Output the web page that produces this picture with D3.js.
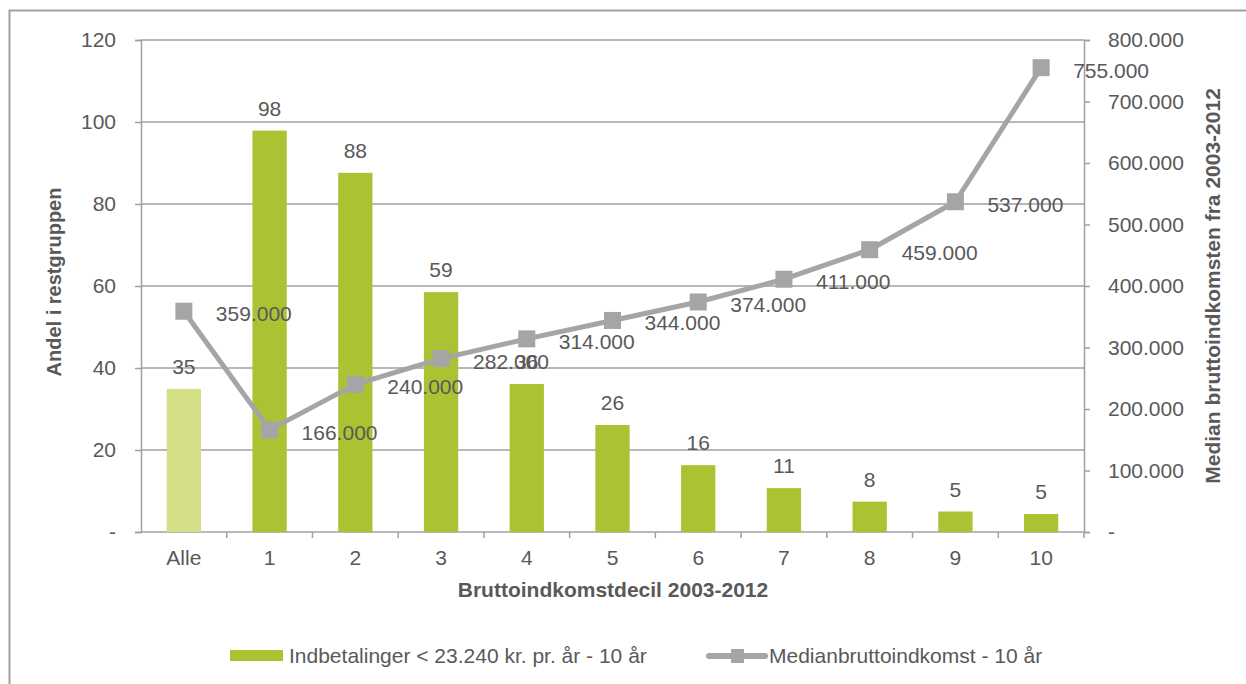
<!DOCTYPE html>
<html>
<head>
<meta charset="utf-8">
<script src="https://cdn.jsdelivr.net/npm/d3@7"></script>
<style>
  body { margin: 0; background: #fff; }
  svg text { font-family: "Liberation Sans", Arial, sans-serif; fill: #595959; }
</style>
</head>
<body>
<div id="chart"></div>
<script>
// data
let kategorier = ["Alle", "1", "2", "3", "4", "5", "6", "7", "8", "9", "10"];
let andel = [34.9, 97.9, 87.6, 58.5, 36.1, 26.1, 16.3, 10.7, 7.4, 5.0, 4.4];
let andelLabels = ["35", "98", "88", "59", "36", "26", "16", "11", "8", "5", "5"];
let median = [359000, 166000, 240000, 282000, 314000, 344000, 374000, 411000, 459000, 537000, 755000];
let venstreTicks = [0, 20, 40, 60, 80, 100, 120];
let hoejreTicks = [0, 100000, 200000, 300000, 400000, 500000, 600000, 700000, 800000];
let serieNavne = ["Indbetalinger < 23.240 kr. pr. år - 10 år", "Medianbruttoindkomst - 10 år"];

let W = 1246, H = 684;
let plot = {left: 141, right: 1084, top: 40, bottom: 532};
let groen = "#adc233", lysGroen = "#d3de85", graa = "#a5a5a5", gitter = "#a0a0a0";
let fs = "21px";

let dk = d3.formatLocale({decimal: ",", thousands: ".", grouping: [3], currency: ["", ""]});
let fmt = dk.format(",");

let svg = d3.select("#chart").append("svg")
    .attr("width", W).attr("height", H);

// chart border (left and top visible, runs off the picture)
svg.append("rect")
    .attr("x", 9.5).attr("y", 10.5)
    .attr("width", W + 20).attr("height", H + 20)
    .attr("fill", "none").attr("stroke", "#a0a0a0").attr("stroke-width", 2);

let x = d3.scaleBand().domain(kategorier)
    .range([plot.left, plot.right])
    .paddingInner(0.6).paddingOuter(0.3);
let y = d3.scaleLinear().domain([0, 120]).range([plot.bottom, plot.top]);
let y2 = d3.scaleLinear().domain([0, 800000]).range([plot.bottom, plot.top]);

// gridlines
svg.append("g")
    .selectAll("line")
    .data(venstreTicks.filter(d => d > 0))
    .enter().append("line")
    .attr("x1", plot.left).attr("x2", plot.right)
    .attr("y1", d => y(d)).attr("y2", d => y(d))
    .attr("stroke", gitter).attr("stroke-width", 1.5);

// left axis
let venstre = svg.append("g")
    .attr("transform", "translate(" + plot.left + ",0)")
    .call(d3.axisLeft(y).tickValues(venstreTicks).tickSize(6).tickPadding(19)
        .tickFormat(d => d == 0 ? "-" : d));

// right axis
let hoejre = svg.append("g")
    .attr("transform", "translate(" + plot.right + ",0)")
    .call(d3.axisRight(y2).tickValues(hoejreTicks).tickSize(6).tickPadding(18)
        .tickFormat(d => d == 0 ? "-" : fmt(d)));

// bottom axis, labels at band centres
let bund = svg.append("g")
    .attr("transform", "translate(0," + plot.bottom + ")")
    .call(d3.axisBottom(x).tickSize(0).tickPadding(18));

// tick marks between categories
svg.append("g")
    .selectAll("line")
    .data(kategorier.slice(1).concat(["end"]))
    .enter().append("line")
    .attr("x1", (d, i) => plot.left + x.step() * (i + 1))
    .attr("x2", (d, i) => plot.left + x.step() * (i + 1))
    .attr("y1", plot.bottom).attr("y2", plot.bottom + 6)
    .attr("stroke", gitter).attr("stroke-width", 1.5);

[venstre, hoejre, bund].forEach(g => {
    g.selectAll(".domain").attr("stroke", gitter).attr("stroke-width", 1.5);
    g.selectAll(".tick line").attr("stroke", gitter).attr("stroke-width", 1.5);
    g.selectAll("text").style("font-size", fs).attr("fill", "#595959");
});
bund.select(".domain").attr("d", "M" + plot.left + ",0H" + plot.right);

// bars
svg.append("g")
    .selectAll("rect")
    .data(andel)
    .enter().append("rect")
    .attr("x", (d, i) => x(kategorier[i]))
    .attr("y", d => y(d))
    .attr("width", x.bandwidth())
    .attr("height", d => plot.bottom - y(d))
    .attr("fill", (d, i) => i == 0 ? lysGroen : groen);

svg.append("g")
    .selectAll("text")
    .data(andel)
    .enter().append("text")
    .attr("x", (d, i) => x(kategorier[i]) + x.bandwidth() / 2)
    .attr("y", d => y(d) - 15)
    .attr("text-anchor", "middle")
    .style("font-size", fs)
    .text((d, i) => andelLabels[i]);

// line series on right axis
let cx = (d, i) => x(kategorier[i]) + x.bandwidth() / 2;
let linje = d3.line().x(cx).y(d => y2(d));

svg.append("path")
    .datum(median)
    .attr("d", linje)
    .attr("fill", "none")
    .attr("stroke", graa)
    .attr("stroke-width", 5)
    .attr("stroke-linejoin", "round");

let ms = 17;
svg.append("g")
    .selectAll("rect")
    .data(median)
    .enter().append("rect")
    .attr("x", (d, i) => cx(d, i) - ms / 2)
    .attr("y", d => y2(d) - ms / 2)
    .attr("width", ms).attr("height", ms)
    .attr("fill", graa);

// labels sit right of the markers (282.000 runs over the "36" like in the original)
svg.append("g")
    .selectAll("text")
    .data(median)
    .enter().append("text")
    .attr("x", (d, i) => cx(d, i) + 32)
    .attr("y", d => y2(d) + 10)
    .style("font-size", fs)
    .text(d => fmt(d));

// axis titles
svg.append("text")
    .attr("transform", "translate(61,282) rotate(-90)")
    .attr("text-anchor", "middle")
    .style("font-size", "20px").style("font-weight", "bold")
    .text("Andel i restgruppen");

svg.append("text")
    .attr("transform", "translate(1220,286) rotate(-90)")
    .attr("text-anchor", "middle")
    .style("font-size", "21px").style("font-weight", "bold")
    .text("Median bruttoindkomsten fra 2003-2012");

svg.append("text")
    .attr("x", 613).attr("y", 597)
    .attr("text-anchor", "middle")
    .style("font-size", "21px").style("font-weight", "bold")
    .text("Bruttoindkomstdecil 2003-2012");

// legend
let leg = svg.append("g");
leg.append("rect")
    .attr("x", 230).attr("y", 650).attr("width", 53).attr("height", 11)
    .attr("fill", groen);
leg.append("text")
    .attr("x", 289).attr("y", 663)
    .style("font-size", fs)
    .text(serieNavne[0]);
leg.append("line")
    .attr("x1", 709).attr("x2", 765).attr("y1", 656).attr("y2", 656)
    .attr("stroke", graa).attr("stroke-width", 6).attr("stroke-linecap", "round");
leg.append("rect")
    .attr("x", 731).attr("y", 649).attr("width", 13).attr("height", 14)
    .attr("fill", graa);
leg.append("text")
    .attr("x", 769).attr("y", 663)
    .style("font-size", fs)
    .text(serieNavne[1]);
</script>
</body>
</html>
